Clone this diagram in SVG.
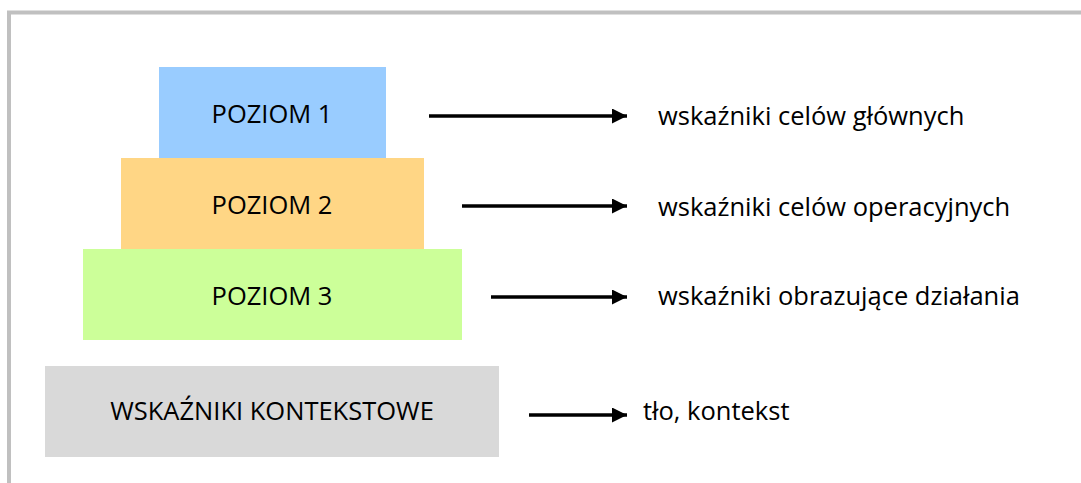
<svg xmlns="http://www.w3.org/2000/svg" width="1081" height="483" viewBox="0 0 1081 483">
<style>
.t{font-family:"Open Sans","Noto Sans",sans-serif;font-size:25.5px;fill:#000}
.c{text-anchor:middle}
.a{stroke:#000;stroke-width:3.5;fill:none}
</style>
<defs>
<marker id="ah" markerUnits="userSpaceOnUse" markerWidth="16" markerHeight="16" refX="15" refY="7.5" orient="auto">
<path d="M0,0 L15,7.5 L0,15 Z" fill="#000"/>
</marker>
</defs>
<rect width="1081" height="483" fill="#fff"/>
<path d="M9,483 V12.5 H1081" fill="none" stroke="#c0c0c0" stroke-width="4"/>
<g id="poziom1"><rect x="159" y="67" width="227" height="91" fill="#99ccff"/><text class="t c" x="272" y="123">POZIOM 1</text></g>
<g id="poziom2"><rect x="121" y="158" width="303" height="91" fill="#ffd685"/><text class="t c" x="272" y="214">POZIOM 2</text></g>
<g id="poziom3"><rect x="83" y="249" width="379" height="91" fill="#ccff99"/><text class="t c" x="272" y="305">POZIOM 3</text></g>
<g id="kontekst"><rect x="45" y="366" width="454" height="91" fill="#d9d9d9"/><text class="t c" x="272" y="420">WSKAŹNIKI KONTEKSTOWE</text></g>
<g id="connectors">
<line class="a" x1="429" y1="116" x2="627" y2="116" marker-end="url(#ah)"/>
<line class="a" x1="462" y1="206" x2="627" y2="206" marker-end="url(#ah)"/>
<line class="a" x1="491" y1="297" x2="627" y2="297" marker-end="url(#ah)"/>
<line class="a" x1="529" y1="415" x2="627" y2="415" marker-end="url(#ah)"/>
</g>
<g id="label1"><text class="t" x="658" y="125">wskaźniki celów głównych</text></g>
<g id="label2"><text class="t" x="658" y="216">wskaźniki celów operacyjnych</text></g>
<g id="label3"><text class="t" x="658" y="305">wskaźniki obrazujące działania</text></g>
<g id="label4"><text class="t" x="643" y="420">tło, kontekst</text></g>
</svg>
